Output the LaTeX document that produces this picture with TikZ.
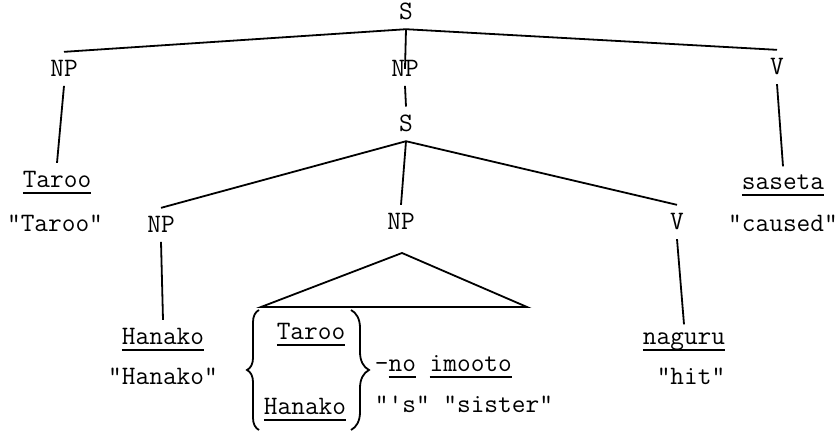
\documentclass[tikz,border=0pt]{standalone}
\usetikzlibrary{decorations.pathreplacing}
\newcommand{\ul}[1]{\setbox0\hbox{#1}\rlap{\rule[-2.8pt]{\wd0}{0.6pt}}\box0\relax}
\begin{document}
\begin{tikzpicture}[x=0.5pt,y=-0.5pt,line width=0.9pt]
  \tikzstyle{every node}=[font=\fontsize{13.3}{16}\selectfont\ttfamily,inner sep=4pt,anchor=base]
  \tikzstyle{curly}=[decorate,decoration={brace,amplitude=6pt}]
  \useasboundingbox (0,0) rectangle (840,431);

  \node (S1)      at (406,20)  {S};
  \node (NP1)     at (64,77)   {NP};
  \node (NP2)     at (405,77)  {NP};
  \node (V1)      at (777,75)  {V};
  \node (S2)      at (406,132) {S};
  \node (taroo)   at (57,188)  {\ul{Taroo}};
  \node (tarooG)  at (55,232)  {"Taroo"};
  \node (saseta)  at (783,190) {\ul{saseta}};
  \node (sasetaG) at (783,232) {"caused"};
  \node (NP3)     at (161,233) {NP};
  \node (NP4)     at (401,230) {NP};
  \node (V2)      at (677,230) {V};
  \node (hanako)  at (163,345) {\ul{Hanako}};
  \node (hanakoG) at (163,385) {"Hanako"};
  \node (naguru)  at (684,345) {\ul{naguru}};
  \node (naguruG) at (691,385) {"hit"};
  \node (tar)     at (311,340) {\ul{Taroo}};
  \node (han)     at (305,415) {\ul{Hanako}};
  \node[anchor=base west] (imooto)  at (366,372) {-\ul{no} \ul{imooto}};
  \node[anchor=base west] (imootoG) at (366,413) {"'s" "sister"};

  % triangle over the complex NP
  \coordinate (apex)  at (402,253);
  \coordinate (baseL) at (261,307);
  \coordinate (baseR) at (527,307);
  % ends of the two braces
  \coordinate (lbB) at (259,430);
  \coordinate (lbT) at (259,310);
  \coordinate (rbT) at (351,310);
  \coordinate (rbB) at (351,430);

  \path (S1.south) edge (NP1.north)
                   edge (NP2.center)
                   edge (V1.north)
        (NP1.south) edge (taroo.north)
        (V1.south) edge (saseta.north)
        (NP2.south) edge (S2.north)
        (S2.south) edge (NP3.north)
                   edge (NP4.north)
                   edge (V2.north)
        (NP3.south) edge (hanako.north)
        (V2.south) edge (naguru.north);

  \draw (apex) -- (baseL) -- (baseR) -- cycle;
  \draw[curly] (lbB) -- (lbT);
  \draw[curly,decoration={amplitude=9pt}] (rbT) -- (rbB);
\end{tikzpicture}
\end{document}
